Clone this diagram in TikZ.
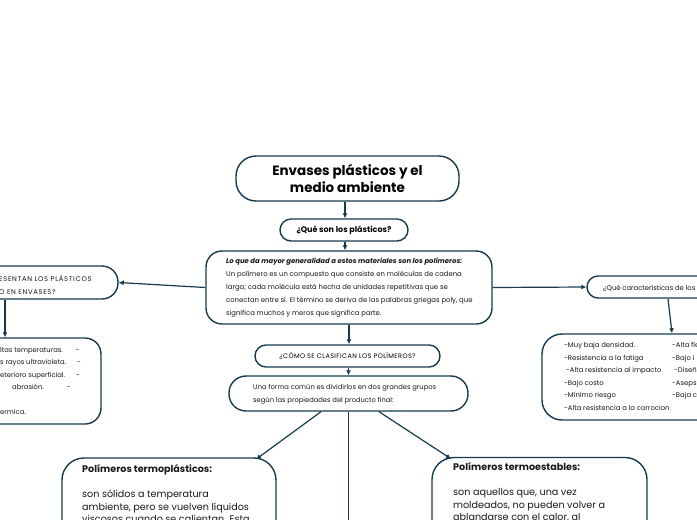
\documentclass[tikz,border=0pt]{standalone}
\usepackage{fontspec}
\setmainfont{Poppins}
\usetikzlibrary{arrows.meta}
\definecolor{ink}{RGB}{23,58,78}
\begin{document}
\begin{tikzpicture}[x=1pt,y=-1pt,
  box/.style={draw=ink, line width=1.4pt, rounded corners=#1, fill=white, inner sep=0pt},
  box/.default=12pt,
  arr/.style={draw=ink, line width=1.2pt, -{Latex[length=5pt,width=5pt]}},
  ln/.style={draw=ink, line width=1.2pt},
  txt/.style={text=black!90, inner sep=0pt}]
\useasboundingbox (0,0) rectangle (697,520);
\clip (0,0) rectangle (697,520);

% title
\node[box=20pt, minimum width=223pt, minimum height=45pt, align=center,
      font=\bfseries\fontsize{13.5}{17}\selectfont] (title) at (347.5,178.5)
      {Envases plásticos y el\\medio ambiente};
\node[box=11pt, minimum width=128pt, minimum height=22pt,
      font=\bfseries\fontsize{8}{8}\selectfont] (q1) at (344,230) {¿Qué son los plásticos?};

% definition
\node[box=16pt, minimum width=286pt, minimum height=73pt] (def) at (349,287.5) {};
\node[txt, anchor=north west, align=left, font=\fontsize{6.85}{13}\selectfont] (deft) at (226,258)
  {\textbf{\textit{Lo que da mayor generalidad a estos materiales son los polímeros:}}\\
   Un polímero es un compuesto que consiste en moléculas de cadena\\
   larga; cada molécula está hecha de unidades repetitivas que se\\
   conectan entre sí. El término se deriva de las palabras griegas poly, que\\
   significa muchos y meros que significa parte.};

% left branch
\node[box=16pt, minimum width=178pt, minimum height=33pt] (lq) at (29,282.5) {};
\node[txt, anchor=west, align=left, font=\fontsize{6.8}{13}\selectfont\addfontfeatures{LetterSpace=10}] (lqt) at (-1,284.5)
  {ESENTAN LOS PLÁSTICOS\\O EN ENVASES?};
\node[box=16pt, minimum width=181pt, minimum height=86pt] (lp) at (10.5,381) {};
\node[txt, anchor=north west, align=left, font=\fontsize{6.8}{12.5}\selectfont] (lpt) at (0,347)
  {ltas temperaturas.\hspace{13pt}-\\
   s rayos ultravioleta.\hspace{11pt}-\\
   eterioro superficial.\hspace{11pt}-\\
   \hspace{12pt}abrasión.\hspace{23pt}-\\
   \mbox{}\\
   ermica.};

% right branch
\node[box=11pt, minimum width=173pt, minimum height=22pt] (rq) at (673.5,287) {};
\node[txt, anchor=west, font=\fontsize{6.8}{8}\selectfont] (rqt) at (603,288) {¿Qué características de los};
\node[box=20pt, minimum width=258pt, minimum height=86pt] (rp) at (671,377) {};
\node[txt, anchor=north west, align=left, font=\fontsize{6.85}{12.6}\selectfont] (rc1) at (564,342)
  {-Muy baja densidad.\\
   -Resistencia a la fatiga\\
   \hspace{2pt}-Alta resistencia al impacto\\
   -Bajo costo\\
   -Mínimo riesgo\\
   -Alta resistencia a la corrocion};
\node[txt, anchor=north west, align=left, font=\fontsize{6.85}{12.6}\selectfont] (rc2) at (672,342)
  {-Alta fle\\
   -Bajo i\\
   \hspace{2pt}-Diseñ\\
   -Asepsi\\
   -Baja c};

% classification
\node[box=11pt, minimum width=185pt, minimum height=22pt,
      font=\fontsize{6.5}{8}\selectfont\addfontfeatures{LetterSpace=6}] (q2) at (347.5,356)
      {¿CÓMO SE CLASIFICAN LOS POLÍMEROS?};
\node[box=17pt, minimum width=239pt, minimum height=35pt] (cls) at (348.5,393.5) {};
\node[txt, anchor=west, align=left, font=\fontsize{6.75}{13}\selectfont] (clst) at (253,394.5)
  {Una forma común es dividirlos en dos grandes grupos\\según las propiedades del producto final:};

% bottom boxes
\node[box=22pt, minimum width=214pt, minimum height=142pt] (tp) at (169,529) {};
\node[txt, anchor=north west, align=left, font=\fontsize{9.6}{12.7}\selectfont] (tpt) at (82,464)
  {\textbf{Polímeros termoplásticos:}\\
   \mbox{}\\
   son sólidos a temperatura\\
   ambiente, pero se vuelven líquidos\\
   viscosos cuando se calientan. Esta};
\node[box=22pt, minimum width=215pt, minimum height=142pt] (te) at (539.5,528.5) {};
\node[txt, anchor=north west, align=left, font=\fontsize{9.6}{12.7}\selectfont] (tet) at (453,462)
  {\textbf{Polímeros termoestables:}\\
   \mbox{}\\
   son aquellos que, una vez\\
   moldeados, no pueden volver a\\
   ablandarse con el calor, al};

% connectors
\coordinate (xa) at (345,0);
\coordinate (xb) at (668,0);
\coordinate (xc) at (672,0);
\coordinate (xl) at (5,0);
\coordinate (bl1) at (321,0);
\coordinate (bl2) at (256,0);
\coordinate (br1) at (379,0);
\coordinate (br2) at (451,0);
\draw[arr] (title.south -| xa) -- (q1.north -| xa);
\draw[arr] (q1.south -| xa) -- (def.north -| xa);
\draw[arr] (def.west) -- (lq.east);
\draw[arr] (def.east) -- (rq.west);
\draw[arr] (lq.south -| xl) -- (lp.north -| xl);
\draw[arr] (rq.south -| xb) -- (rp.north -| xc);
\draw[arr] (def.south) -- (def.south |- q2.north);
\draw[arr] (q2.south -| cls.north) -- (cls.north);
\draw[arr] (cls.south -| bl1) -- ([yshift=-2pt]tp.north -| bl2);
\draw[arr] (cls.south -| br1) -- ([yshift=-2pt]te.north -| br2);
\draw[ln] (cls.south) -- ++(0,140);
\end{tikzpicture}
\end{document}
